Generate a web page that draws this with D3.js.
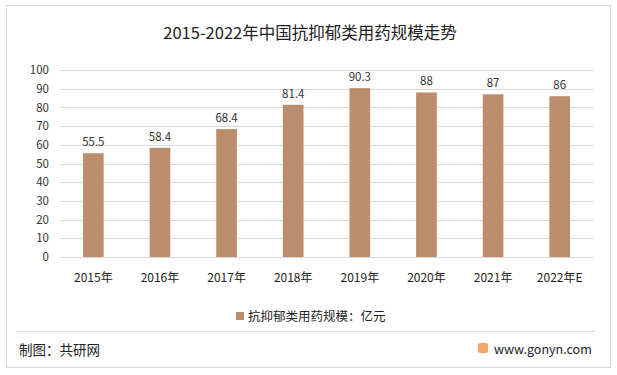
<!DOCTYPE html>
<html><head><meta charset="utf-8">
<script src="https://cdn.jsdelivr.net/npm/d3@7"></script>
<style>body{margin:0;background:#fff}svg{display:block;font-family:"Microsoft YaHei","Noto Sans CJK SC",sans-serif}</style>
</head><body><svg id="c" width="617" height="375"></svg>
<script>
const categories = ["2015年","2016年","2017年","2018年","2019年","2020年","2021年","2022年E"];
const values = [55.5,58.4,68.4,81.4,90.3,88,87,86];
const yTicks = [0,10,20,30,40,50,60,70,80,90,100];
const title = "2015-2022年中国抗抑郁类用药规模走势";
const seriesName = "抗抑郁类用药规模：亿元";
const source = "制图：共研网";
const site = "www.gonyn.com";

const svg = d3.select("#c");
const font = '"Noto Sans CJK SC",sans-serif';
svg.append("rect").attr("x",6.5).attr("y",5.5).attr("width",604).attr("height",362)
  .attr("fill","#fefefe").attr("stroke","#d9d9d9");
svg.append("text").attr("x",310).attr("y",39).attr("text-anchor","middle")
  .attr("font-size",16.5).attr("fill","#222").attr("font-family",font).text(title);

const x = d3.scaleBand().domain(categories).range([60,593]).paddingInner(0.69).paddingOuter(0.345);
const y = d3.scaleLinear().domain([0,100]).range([257,70]);

const g = svg.append("g");
g.selectAll("line.grid").data(yTicks).join("line").attr("class","grid")
  .attr("x1",60).attr("x2",593).attr("y1",d=>Math.round(y(d))+0.5).attr("y2",d=>Math.round(y(d))+0.5)
  .attr("stroke","#d9d9d9");

const ya = svg.append("g").attr("transform","translate(60,0)")
  .call(d3.axisLeft(y).tickValues(yTicks).tickSize(0).tickPadding(11));
ya.select(".domain").remove();
ya.selectAll("text").attr("font-size",11.5).attr("fill","#333").attr("font-family",font);

g.selectAll("rect.bar").data(values).join("rect").attr("class","bar")
  .attr("x",(d,i)=>x(categories[i])).attr("width",x.bandwidth())
  .attr("y",d=>y(d)).attr("height",d=>y(0)-y(d)).attr("fill","#bc8d6c");

g.selectAll("text.lbl").data(values).join("text").attr("class","lbl")
  .attr("x",(d,i)=>x(categories[i])+x.bandwidth()/2).attr("y",d=>y(d)-7)
  .attr("text-anchor","middle").attr("font-size",11.5).attr("fill","#333").attr("font-family",font)
  .text(d=>d);

const xa = svg.append("g").attr("transform","translate(0,257)")
  .call(d3.axisBottom(x).tickSize(0).tickPadding(16));
xa.select(".domain").remove();
xa.selectAll("text").attr("font-size",12).attr("fill","#222").attr("font-family",font);

svg.append("rect").attr("x",236).attr("y",312).attr("width",8).attr("height",8).attr("fill","#bc8d6c");
svg.append("text").attr("x",248).attr("y",321).attr("font-size",12.5).attr("fill","#222").attr("font-family",font).text(seriesName);

svg.append("line").attr("x1",17).attr("x2",595).attr("y1",331.5).attr("y2",331.5).attr("stroke","#d9d9d9");
svg.append("text").attr("x",19).attr("y",355).attr("font-size",13.5).attr("fill","#222").attr("font-family",font).text(source);
svg.append("rect").attr("x",478).attr("y",343).attr("width",10).attr("height",10).attr("rx",2).attr("fill","#f4a76a");
svg.append("text").attr("x",494).attr("y",354).attr("font-size",12.5).attr("fill","#222").attr("font-family",font).text(site);
</script></body></html>
